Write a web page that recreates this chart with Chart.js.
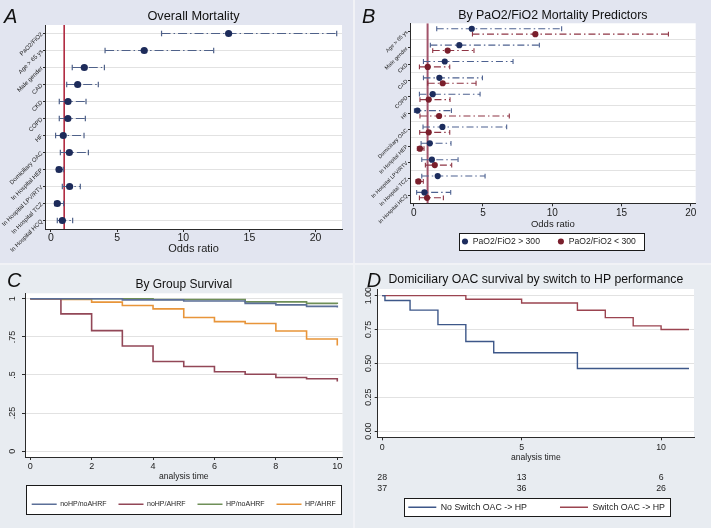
<!DOCTYPE html>
<html>
<head>
<meta charset="utf-8">
<title>Mortality predictors and survival</title>
<script src="https://cdn.jsdelivr.net/npm/chart.js@4.4.1/dist/chart.umd.min.js"></script>
<style>
html,body{margin:0;padding:0}
body{width:711px;height:528px;position:relative;overflow:hidden;background:#f1f2f6;font-family:'Liberation Sans',Arial,Helvetica,sans-serif}
.panel{position:absolute;overflow:hidden}
.panel canvas{position:absolute;left:0;top:0}
#pA{left:0;top:0;width:353px;height:263px;background:#e2e5f0}
#pB{left:355px;top:0;width:356px;height:263px;background:#e2e5f0}
#pC{left:0;top:265px;width:353px;height:263px;background:#e8ecf1}
#pD{left:355px;top:265px;width:356px;height:263px;background:#e8ecf1}
.tag{position:absolute;font-style:italic;font-size:20px;line-height:20px;color:#111}
</style>
</head>
<body>
<div class="panel" id="pA"><canvas id="cA" width="353" height="263"></canvas><span class="tag" style="left:4px;top:5.7px">A</span></div>
<div class="panel" id="pB"><canvas id="cB" width="356" height="263"></canvas><span class="tag" style="left:7px;top:5.7px">B</span></div>
<div class="panel" id="pC"><canvas id="cC" width="353" height="263"></canvas><span class="tag" style="left:7px;top:5px">C</span></div>
<div class="panel" id="pD"><canvas id="cD" width="356" height="263"></canvas><span class="tag" style="left:11.7px;top:4.7px">D</span></div>
<script>
// ---------------- DATA ----------------
// Panel A: overall mortality (odds ratio, 95% CI)
const rowsA = ['PaO2/FiO2','Age > 65 ys','Male gender','CAD','CKD','COPD','HF','Domiciliary OAC','In Hospital HEP','In Hospital LPV/RTV','In Hospital TCZ','In Hospital HCQ'];
const orA = [13.43, 7.05, 2.52, 2.02, 1.29, 1.28, 0.93, 1.39, 0.61, 1.41, 0.48, 0.86];
const loA = [8.36, 4.09, 1.61, 1.19, 0.63, 0.63, 0.35, 0.71, 0.43, 0.86, 0.28, 0.48];
const hiA = [21.6, 12.3, 4.04, 3.58, 2.65, 2.60, 2.50, 2.83, 0.93, 2.22, 0.96, 1.64];
const oddsTicksA = [0, 5, 10, 15, 20];

// Panel B: by PaO2/FiO2
const rowsB = ['Age > 65 ys','Male gender','CKD','CAD','COPD','HF','Domiciliary OAC','In Hospital HEP','In Hospital LPV/RTV','In Hospital TCZ','In Hospital HCQ'];
const orHigh = [4.19, 3.29, 2.24, 1.85, 1.37, 0.27, 2.07, 1.16, 1.31, 1.73, 0.77];
const loHigh = [1.66, 1.20, 0.70, 0.70, 0.41, 0.05, 0.67, 0.53, 0.58, 0.58, 0.21];
const hiHigh = [10.68, 9.07, 7.17, 4.96, 4.79, 2.72, 6.71, 2.69, 3.20, 5.15, 2.67];
const orLow  = [8.78, 2.45, 1.01, 2.09, 1.08, 1.83, 1.08, 0.45, 1.52, 0.34, 0.96];
const loLow  = [4.24, 1.37, 0.41, 1.01, 0.45, 0.45, 0.43, 0.26, 0.84, 0.17, 0.41];
const hiLow  = [18.39, 4.35, 2.60, 4.50, 2.62, 6.90, 2.60, 0.74, 2.74, 0.69, 2.14];
const oddsTicksB = [0, 5, 10, 15, 20];
const refOR = 1;

// Panel C: survival by group
const timeC = [0, 1, 2, 3, 4, 5, 6, 7, 8, 9, 10];
const survNoHPnoAHRF = [1, 1, 1, 0.993, 0.993, 0.985, 0.985, 0.970, 0.960, 0.950, 0.943];
const survNoHPAHRF   = [1, 0.901, 0.791, 0.690, 0.589, 0.556, 0.521, 0.505, 0.484, 0.475, 0.457];
const survHPnoAHRF   = [1, 1, 1, 1, 0.995, 0.995, 0.995, 0.980, 0.980, 0.970, 0.965];
const survHPAHRF     = [1, 0.995, 0.978, 0.956, 0.934, 0.877, 0.850, 0.838, 0.789, 0.736, 0.694];
const timeTicksC = [0, 2, 4, 6, 8, 10];
const survTicks = [0, 0.25, 0.5, 0.75, 1];
const survTickLabelsC = ['0', '.25', '.5', '.75', '1'];

// Panel D: domiciliary OAC survival by switch to HP
const timeNoSwitch = [0, 0.1, 1, 2, 3, 4, 7, 11];
const survNoSwitch = [1, 0.964, 0.893, 0.786, 0.661, 0.578, 0.462, 0.462];
const timeSwitch   = [0, 3, 5, 7, 8, 9, 10, 11];
const survSwitch   = [1, 0.973, 0.946, 0.892, 0.838, 0.777, 0.750, 0.750];
const timeTicksD = [0, 5, 10];
const survTickLabelsD = ['0.00', '0.25', '0.50', '0.75', '1.00'];
const riskTimes = [0, 5, 10];
const atRiskNoSwitch = [28, 13, 6];
const atRiskSwitch = [37, 36, 26];

// ---------------- HELPERS ----------------
const FONT = "'Liberation Sans', Arial, Helvetica, sans-serif";
const AXIS = '#2b2b2b', GRID = '#e2e2e2', TXT = '#1c1c1c';
Chart.defaults.font.family = FONT;
Chart.defaults.color = TXT;
Chart.defaults.animation = false;
Chart.defaults.responsive = false;
Chart.defaults.events = [];
Chart.defaults.plugins.tooltip.enabled = false;
Chart.defaults.plugins.legend.display = false;

function markPts(vals, off) { return vals.map((v, i) => ({x: v, y: i + off})); }
function whiskers(lo, hi, off) {
  const d = [];
  lo.forEach((l, i) => { d.push({x: l, y: i + off}, {x: hi[i], y: i + off}, {x: hi[i], y: null}); });
  return d;
}
function refLine(v, n) { return [{x: v, y: -0.5}, {x: v, y: n - 0.5}]; }
function curve(t, s) { return t.map((v, i) => ({x: v, y: s[i]})); }
function fixedTicks(arr) { return s => { s.ticks = arr.map(v => ({value: v})); }; }

const plotBg = {
  id: 'plotBg',
  afterLayout(chart, args, o) {
    const lg = chart.legend;
    if (lg && o && o.legendTextY != null) {
      lg.top = o.legendTextY - o.legendPad - o.legendFont / 2;
      lg.bottom = o.legendTextY + o.legendFont;
      lg.height = lg.bottom - lg.top;
      if (o.legendLeft != null) {
        lg.left = o.legendLeft - o.legendPad;
        lg.right = lg.left + 1000;
        lg.width = 1000;
      }
    }
  },
  beforeDraw(chart, args, o) {
    const {ctx, chartArea: a} = chart;
    ctx.save();
    ctx.fillStyle = '#ffffff';
    ctx.fillRect(a.left, a.top, a.right - a.left, a.bottom - a.top);
    if (o && o.frame) {
      const f = o.frame;
      let x1, x2;
      if (f.span === 'area') { x1 = a.left + f.padL; x2 = a.right - f.padR; }
      else {
        const hb = chart.legend.legendHitBoxes;
        x1 = Math.min(...hb.map(h => h.left)) - f.padL;
        x2 = Math.max(...hb.map(h => h.left + h.width)) + f.padR;
      }
      x1 = Math.round(x1); x2 = Math.round(x2);
      const y1 = Math.round(f.top), y2 = Math.round(f.bottom);
      ctx.fillStyle = '#ffffff';
      ctx.fillRect(x1, y1, x2 - x1, y2 - y1);
      ctx.strokeStyle = '#1a1a1a';
      ctx.lineWidth = 1;
      ctx.strokeRect(x1 + 0.5, y1 + 0.5, x2 - x1, y2 - y1);
    }
    ctx.restore();
  }
};
Chart.register(plotBg);

const riskTable = {
  id: 'riskTable',
  afterDraw(chart, args, o) {
    if (!o || !o.rows) return;
    const {ctx} = chart, xs = chart.scales.x;
    ctx.save();
    ctx.font = o.size + 'px ' + FONT;
    ctx.fillStyle = TXT;
    ctx.textAlign = 'center';
    ctx.textBaseline = 'middle';
    o.rows.forEach((row, r) => row.forEach((v, i) => ctx.fillText(String(v), xs.getPixelForValue(o.times[i]), o.y[r])));
    ctx.restore();
  }
};

function titleOpt(text, size, pt, pb) {
  return {display: true, text, fullSize: false, color: '#111', font: {size, weight: 'normal'}, padding: {top: pt, bottom: pb}};
}

// ---------------- PANEL A ----------------
const NAVY = '#1d2b5a', STEEL = '#4f6189';
new Chart(document.getElementById('cA'), {
  type: 'scatter',
  data: {datasets: [
    {label: 'Odds ratio', data: markPts(orA, 0), pointRadius: 3.6, pointBackgroundColor: NAVY, backgroundColor: NAVY, pointBorderWidth: 0, borderWidth: 0},
    {label: '95% CI', data: whiskers(loA, hiA, 0), showLine: true, borderColor: STEEL, borderWidth: 1.2, borderDash: [9, 3, 1.5, 3],
     pointStyle: 'line', pointRotation: 90, pointRadius: 2.8, pointBorderColor: STEEL, pointBorderWidth: 1.2},
    {label: 'OR = 1', data: refLine(refOR, rowsA.length), showLine: true, borderColor: '#b02a40', borderWidth: 1.6, pointRadius: 0}
  ]},
  options: {
    layout: {padding: {left: 0, right: 11, top: 0, bottom: 0}},
    plugins: {title: titleOpt('Overall Mortality', 12.75, 9.05, 0.65)},
    scales: {
      x: {type: 'linear', bounds: 'data', min: -0.45, max: 22, afterBuildTicks: fixedTicks(oddsTicksA), afterFit: s => { s.height = 34; },
          border: {display: true, color: AXIS, width: 1},
          grid: {drawOnChartArea: false, tickLength: 3, tickColor: AXIS},
          ticks: {font: {size: 10.5}, color: TXT, padding: 0, maxRotation: 0, autoSkip: false},
          title: {display: true, text: 'Odds ratio', font: {size: 11}, color: TXT, padding: {top: 0, bottom: 7.5}}},
      y: {type: 'linear', bounds: 'data', reverse: true, min: -0.5, max: rowsA.length - 0.5,
          afterBuildTicks: fixedTicks(rowsA.map((_, i) => i)), afterFit: s => { s.width = 45; },
          border: {display: true, color: AXIS, width: 1},
          grid: {color: GRID, tickLength: 2, tickColor: AXIS},
          ticks: {font: {size: 6}, color: TXT, padding: 1, minRotation: 45, maxRotation: 45, autoSkip: false, callback: v => rowsA[v]}}
    }
  }
});

// ---------------- PANEL B ----------------
const BLUE_P = '#1d2d5e', BLUE_L = '#4d6190', RED_P = '#7a1f2c', RED_L = '#8e3444';
const offB = 0.165;
new Chart(document.getElementById('cB'), {
  type: 'scatter',
  data: {datasets: [
    {label: 'PaO2/FiO2 > 300', inLegend: true, data: markPts(orHigh, -offB), pointRadius: 3.1, pointBackgroundColor: BLUE_P, backgroundColor: BLUE_P, pointBorderWidth: 0, borderWidth: 0},
    {label: 'PaO2/FiO2 < 300', inLegend: true, data: markPts(orLow, offB), pointRadius: 3.1, pointBackgroundColor: RED_P, backgroundColor: RED_P, pointBorderWidth: 0, borderWidth: 0},
    {label: 'CI > 300', data: whiskers(loHigh, hiHigh, -offB), showLine: true, borderColor: BLUE_L, borderWidth: 1.1, borderDash: [7, 3, 1.5, 3],
     pointStyle: 'line', pointRotation: 90, pointRadius: 2.4, pointBorderColor: BLUE_L, pointBorderWidth: 1.1},
    {label: 'CI < 300', data: whiskers(loLow, hiLow, offB), showLine: true, borderColor: RED_L, borderWidth: 1.1, borderDash: [7, 3, 1.5, 3],
     pointStyle: 'line', pointRotation: 90, pointRadius: 2.4, pointBorderColor: RED_L, pointBorderWidth: 1.1},
    {label: 'OR = 1', data: refLine(refOR, rowsB.length), showLine: true, borderColor: '#a2536a', borderWidth: 2, pointRadius: 0}
  ]},
  options: {
    layout: {padding: {left: 0, right: 15.3, top: 0, bottom: 9.7}},
    plugins: {
      title: titleOpt('By PaO2/FiO2 Mortality Predictors', 12.4, 7.9, 0.5),
      legend: {display: true, position: 'bottom', fullSize: true, align: 'start', maxHeight: 20,
               labels: {font: {size: 8.6}, color: TXT, usePointStyle: true, pointStyle: 'circle', boxWidth: 7, boxHeight: 4.3, padding: 17.5,
                        filter: (item, data) => data.datasets[item.datasetIndex].inLegend === true}},
      plotBg: {legendTextY: 241.5, legendPad: 17.5, legendFont: 8.6, legendLeft: 106.5, frame: {span: 'items', padL: 2.5, padR: 8, top: 232.7, bottom: 250}}
    },
    scales: {
      x: {type: 'linear', bounds: 'data', min: -0.27, max: 20.36, afterBuildTicks: fixedTicks(oddsTicksB), afterFit: s => { s.height = 30; },
          border: {display: true, color: AXIS, width: 1},
          grid: {drawOnChartArea: false, tickLength: 3, tickColor: AXIS},
          ticks: {font: {size: 10}, color: TXT, padding: 1, maxRotation: 0, autoSkip: false},
          title: {display: true, text: 'Odds ratio', font: {size: 9.5}, color: TXT, padding: {top: 0, bottom: 3.7}}},
      y: {type: 'linear', bounds: 'data', reverse: true, min: -0.5, max: rowsB.length - 0.5,
          afterBuildTicks: fixedTicks(rowsB.map((_, i) => i)), afterFit: s => { s.width = 55; },
          border: {display: true, color: AXIS, width: 1},
          grid: {drawOnChartArea: false, tickLength: 2, tickColor: AXIS},
          ticks: {font: {size: 5.4}, color: TXT, padding: 1, minRotation: 45, maxRotation: 45, autoSkip: false, callback: v => rowsB[v]}},
      yGrid: {type: 'linear', bounds: 'data', position: 'left', reverse: true, min: -0.5, max: rowsB.length - 0.5,
          afterBuildTicks: fixedTicks(rowsB.slice(1).map((_, i) => i + 0.5)), afterFit: s => { s.width = 0; },
          border: {display: false}, grid: {color: GRID, drawTicks: false}, ticks: {display: false}}
    }
  }
});

// ---------------- PANEL C ----------------
const C_BLUE = '#5b6f98', C_MAROON = '#924757', C_GREEN = '#6f8f58', C_ORANGE = '#e8953a';
function kmSet(label, t, s, color, w) {
  return {label, data: curve(t, s), showLine: true, stepped: true, borderColor: color, backgroundColor: color, borderWidth: w,
          pointRadius: 0, pointBorderColor: color, pointBackgroundColor: color, pointBorderWidth: w};
}
new Chart(document.getElementById('cC'), {
  type: 'scatter',
  data: {datasets: [
    kmSet('noHP/noAHRF', timeC, survNoHPnoAHRF, C_BLUE, 1.6),
    kmSet('noHP/AHRF', timeC, survNoHPAHRF, C_MAROON, 1.6),
    kmSet('HP/noAHRF', timeC, survHPnoAHRF, C_GREEN, 1.6),
    kmSet('HP/AHRF', timeC, survHPAHRF, C_ORANGE, 1.6)
  ]},
  options: {
    layout: {padding: {left: 0, right: 10.5, top: 0, bottom: 16}},
    plugins: {
      title: titleOpt('By Group Survival', 12, 12, 1.9),
      legend: {display: true, position: 'bottom', fullSize: true, align: 'start', maxHeight: 30,
               labels: {font: {size: 7}, color: TXT, usePointStyle: true, pointStyle: 'line', pointStyleWidth: 25, padding: 12}},
      plotBg: {legendTextY: 239.3, legendPad: 12, legendFont: 7, legendLeft: 31.7, frame: {span: 'area', padL: 1, padR: 1.8, top: 220, bottom: 249.3}}
    },
    scales: {
      x: {type: 'linear', bounds: 'data', min: -0.17, max: 10.17, afterBuildTicks: fixedTicks(timeTicksC), afterFit: s => { s.height = 26; },
          border: {display: true, color: AXIS, width: 1},
          grid: {drawOnChartArea: false, tickLength: 3, tickColor: AXIS},
          ticks: {font: {size: 9}, color: TXT, padding: 1.5, maxRotation: 0, autoSkip: false},
          title: {display: true, text: 'analysis time', font: {size: 8.6}, color: TXT, padding: {top: 0, bottom: 0.9}}},
      y: {type: 'linear', bounds: 'data', min: -0.038, max: 1.036, afterBuildTicks: fixedTicks(survTicks), afterFit: s => { s.width = 25; },
          border: {display: true, color: AXIS, width: 1},
          grid: {color: GRID, tickLength: 3, tickColor: AXIS},
          ticks: {font: {size: 9}, color: TXT, padding: 3.45, minRotation: 90, maxRotation: 90, crossAlign: 'center', autoSkip: false,
                  callback: (v, i) => survTickLabelsC[i]}}
    }
  }
});

// ---------------- PANEL D ----------------
const D_BLUE = '#3d5789', D_RED = '#9b4450';
new Chart(document.getElementById('cD'), {
  type: 'scatter',
  data: {datasets: [
    kmSet('No Switch OAC -> HP', timeNoSwitch, survNoSwitch, D_BLUE, 1.4),
    kmSet('Switch OAC -> HP', timeSwitch, survSwitch, D_RED, 1.4)
  ]},
  plugins: [riskTable],
  options: {
    layout: {padding: {left: 0, right: 17, top: 0, bottom: 24.7}},
    plugins: {
      title: titleOpt('Domiciliary OAC survival by switch to HP performance', 12.25, 7.15, 2.15),
      legend: {display: true, position: 'bottom', fullSize: true, align: 'start', maxHeight: 40,
               labels: {font: {size: 8.8}, color: TXT, usePointStyle: true, pointStyle: 'line', pointStyleWidth: 28, padding: 33}},
      plotBg: {legendTextY: 242.3, legendPad: 33, legendFont: 8.8, legendLeft: 53.3, frame: {span: 'items', padL: 4.3, padR: 5, top: 233.3, bottom: 250.7}},
      riskTable: {rows: [atRiskNoSwitch, atRiskSwitch], times: riskTimes, y: [212.3, 224], size: 8.8}
    },
    scales: {
      x: {type: 'linear', bounds: 'data', min: -0.16, max: 11.18, afterBuildTicks: fixedTicks(timeTicksD), afterFit: s => { s.height = 26; },
          border: {display: true, color: AXIS, width: 1},
          grid: {drawOnChartArea: false, tickLength: 3, tickColor: AXIS},
          ticks: {font: {size: 8.8}, color: TXT, padding: 1.5, maxRotation: 0, autoSkip: false},
          title: {display: true, text: 'analysis time', font: {size: 8.6}, color: TXT, padding: {top: 0, bottom: 0.2}}},
      y: {type: 'linear', bounds: 'data', min: -0.046, max: 1.049, afterBuildTicks: fixedTicks(survTicks), afterFit: s => { s.width = 22.7; },
          border: {display: true, color: AXIS, width: 1},
          grid: {color: GRID, tickLength: 3, tickColor: AXIS},
          ticks: {font: {size: 8.8}, color: TXT, padding: -2.2, minRotation: 90, maxRotation: 90, crossAlign: 'center', autoSkip: false,
                  callback: (v, i) => survTickLabelsD[i]}}
    }
  }
});
</script>
</body>
</html>
